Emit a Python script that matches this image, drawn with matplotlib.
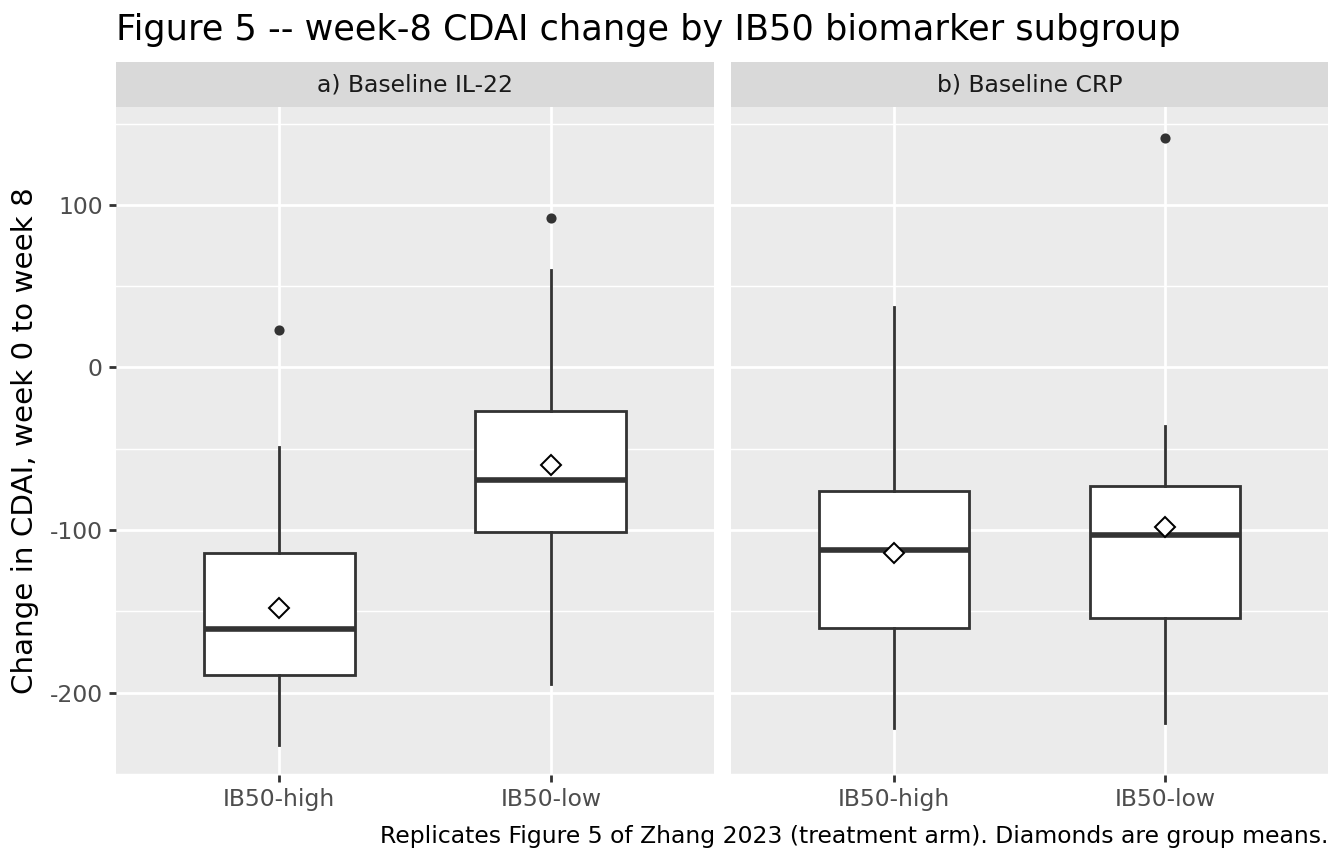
import matplotlib
matplotlib.use("Agg")
import matplotlib.pyplot as plt
import numpy as np

plt.rcParams['font.family'] = ['DejaVu Sans']
plt.rcParams['axes.unicode_minus'] = False

# values (CDAI change, week 0 -> week 8)
groups = ['IB50-high', 'IB50-low']
panels = ['a) Baseline IL-22', 'b) Baseline CRP']

whislo = [[-232, -195], [-222, -219]]
q1 = [[-189, -101], [-160, -154]]
med = [[-161, -69], [-112, -103]]
q3 = [[-114, -27], [-76, -73]]
whishi = [[-49, 60], [37, -36]]
means = [[-148, -60], [-114, -98]]
outliers = [[[23], [92]], [[], [141]]]

fig = plt.figure(figsize=(7, 4.5), dpi=192)

W, H = 1344, 864
panel_x = [(116, 714), (731, 1328)]
top, bottom = 107, 775
strip_top = 62

box_col = '#333333'
for p in range(2):
    x0, x1 = panel_x[p]
    ax = fig.add_axes([x0 / W, 1 - bottom / H, (x1 - x0) / W, (bottom - top) / H])
    ax.set_facecolor('#EBEBEB')
    for s in ax.spines.values():
        s.set_visible(False)

    stats = []
    for g in range(2):
        stats.append(dict(whislo=whislo[p][g], q1=q1[p][g], med=med[p][g],
                          q3=q3[p][g], whishi=whishi[p][g], fliers=outliers[p][g]))
    ax.bxp(stats, positions=[1, 2], widths=0.555, patch_artist=True, showcaps=False,
           boxprops=dict(facecolor='white', edgecolor=box_col, linewidth=1.05),
           whiskerprops=dict(color=box_col, linewidth=1.05),
           medianprops=dict(color=box_col, linewidth=2.1, solid_capstyle='butt'),
           flierprops=dict(marker='o', markerfacecolor=box_col, markeredgecolor=box_col,
                           markersize=2.8, linestyle='none'),
           zorder=3)
    ax.plot([1, 2], means[p], linestyle='none', marker='D', markersize=5.2,
            markerfacecolor='white', markeredgecolor='black', markeredgewidth=0.75, zorder=5)

    ax.set_xlim(0.4, 2.6)
    ax.set_ylim(-250.7, 160.2)
    ax.set_yticks([-200, -100, 0, 100])
    ax.set_yticks([-250, -150, -50, 50, 150], minor=True)
    ax.set_xticks([1, 2])
    ax.set_xticklabels(groups)
    ax.grid(True, which='major', color='white', linewidth=1.05, zorder=0)
    ax.grid(True, which='minor', axis='y', color='white', linewidth=0.55, zorder=0)
    ax.set_axisbelow(True)
    ax.tick_params(axis='both', which='major', length=2.75, width=1.05, color='#333333',
                   labelsize=8.8, labelcolor='#4D4D4D', pad=2.2)
    ax.tick_params(axis='y', which='minor', length=0)
    if p == 0:
        ax.set_ylabel('Change in CDAI, week 0 to week 8', fontsize=11, color='black', labelpad=4)
    else:
        ax.tick_params(axis='y', which='major', length=0, labelleft=False)

    # facet strip
    sax = fig.add_axes([x0 / W, 1 - top / H, (x1 - x0) / W, (top - strip_top) / H])
    sax.set_facecolor('#D9D9D9')
    sax.set_xticks([])
    sax.set_yticks([])
    for s in sax.spines.values():
        s.set_visible(False)
    sax.text(0.5, 0.5, panels[p], ha='center', va='center', fontsize=8.8,
             color='#1A1A1A', transform=sax.transAxes)

fig.text(116 / W, 1 - 30 / H, 'Figure 5 -- week-8 CDAI change by IB50 biomarker subgroup',
         ha='left', va='center', fontsize=13.2, color='black')
fig.text(1328 / W, 1 - 836 / H,
         'Replicates Figure 5 of Zhang 2023 (treatment arm). Diamonds are group means.',
         ha='right', va='center', fontsize=8.8, color='black')

fig.savefig('out.png', dpi=192)
